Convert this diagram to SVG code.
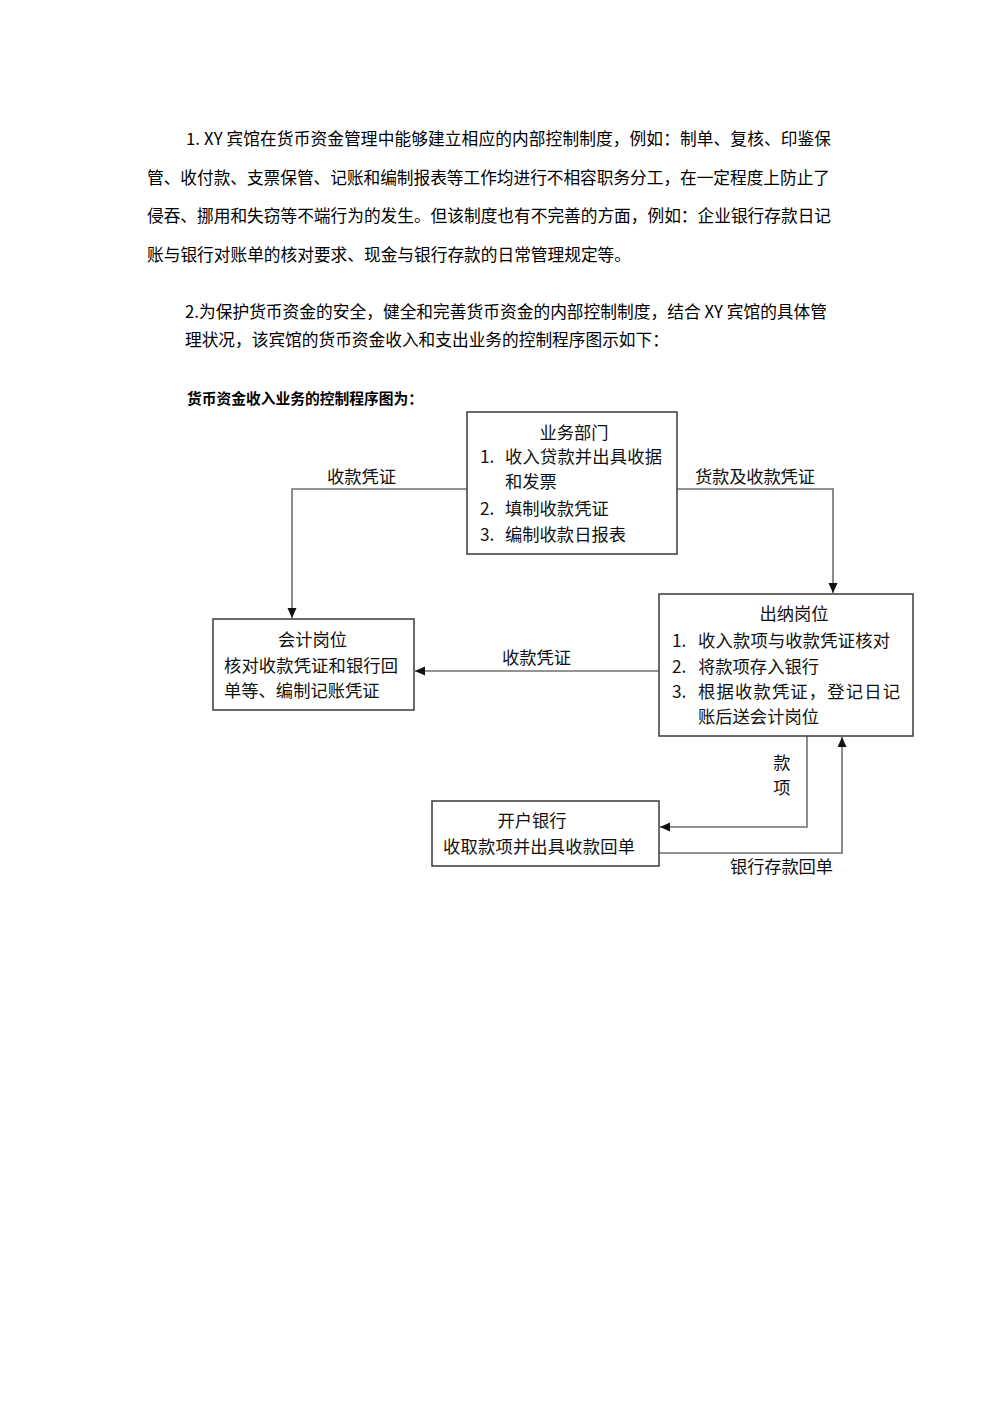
<svg xmlns="http://www.w3.org/2000/svg" width="993" height="1404" viewBox="0 0 993 1404">
<style>
.p{font-family:"Noto Sans CJK SC","Noto Sans",sans-serif;font-size:16.7px;fill:#000}
.h{font-family:"Noto Sans CJK SC","Noto Sans",sans-serif;font-size:14.75px;font-weight:bold;fill:#000}
.t{font-family:"Noto Sans CJK SC","Noto Sans",sans-serif;font-size:17.3px;fill:#111}
.c{text-anchor:middle}
.box{fill:#fff;stroke:#3a3a3a;stroke-width:1.5}
.ln{fill:none;stroke:#707070;stroke-width:1.6}
</style>
<defs>
<marker id="ah" markerUnits="userSpaceOnUse" markerWidth="11" markerHeight="10" refX="10" refY="4.5" orient="auto">
<path d="M0,0 L10,4.5 L0,9 z" fill="#111"/>
</marker>
</defs>
<rect width="993" height="1404" fill="#fff"/>
<g id="text-para">
<text class="p" x="186" y="145" textLength="645" lengthAdjust="spacing">1. XY 宾馆在货币资金管理中能够建立相应的内部控制制度，例如：制单、复核、印鉴保</text>
<text class="p" x="147" y="184" textLength="683" lengthAdjust="spacing">管、收付款、支票保管、记账和编制报表等工作均进行不相容职务分工，在一定程度上防止了</text>
<text class="p" x="147" y="222" textLength="684" lengthAdjust="spacing">侵吞、挪用和失窃等不端行为的发生。但该制度也有不完善的方面，例如：企业银行存款日记</text>
<text class="p" x="147" y="261" textLength="484" lengthAdjust="spacing">账与银行对账单的核对要求、现金与银行存款的日常管理规定等。</text>
<text class="p" x="185" y="318" textLength="642" lengthAdjust="spacing">2.为保护货币资金的安全，健全和完善货币资金的内部控制制度，结合 XY 宾馆的具体管</text>
<text class="p" x="185" y="346">理状况，该宾馆的货币资金收入和支出业务的控制程序图示如下：</text>
<text class="h" x="187" y="403.5" textLength="236" lengthAdjust="spacing">货币资金收入业务的控制程序图为：</text>
</g>
<g id="connectors">
<path class="ln" d="M467,489 H292 V618" marker-end="url(#ah)"/>
<path class="ln" d="M677,489 H833 V593" marker-end="url(#ah)"/>
<path class="ln" d="M659,671 H415" marker-end="url(#ah)"/>
<path class="ln" d="M807,736 V827 H660" marker-end="url(#ah)"/>
<path class="ln" d="M659,853 H842 V737" marker-end="url(#ah)"/>
<text class="t" x="327" y="483.4">收款凭证</text>
<text class="t" x="695" y="483.4" textLength="120" lengthAdjust="spacing">货款及收款凭证</text>
<text class="t" x="502" y="664.4">收款凭证</text>
<text class="t c" x="782" y="769.4">款</text>
<text class="t c" x="782" y="794">项</text>
<text class="t" x="730" y="873.4" textLength="103" lengthAdjust="spacing">银行存款回单</text>
</g>
<g id="node-yewu">
<rect class="box" x="467" y="412" width="210" height="142"/>
<text class="t c" x="574" y="438.7">业务部门</text>
<text class="t" x="480" y="463.4">1.</text>
<text class="t" x="505" y="463.4" textLength="157" lengthAdjust="spacing">收入贷款并出具收据</text>
<text class="t" x="505" y="488.4">和发票</text>
<text class="t" x="480" y="514.7">2.</text>
<text class="t" x="505" y="514.7">填制收款凭证</text>
<text class="t" x="480" y="540.7">3.</text>
<text class="t" x="505" y="540.7">编制收款日报表</text>
</g>
<g id="node-kuaiji">
<rect class="box" x="213" y="619" width="201" height="91"/>
<text class="t c" x="312.5" y="645.7">会计岗位</text>
<text class="t" x="224" y="672.4" textLength="174" lengthAdjust="spacing">核对收款凭证和银行回</text>
<text class="t" x="224" y="696.7">单等、编制记账凭证</text>
</g>
<g id="node-chuna">
<rect class="box" x="659" y="594" width="254" height="142"/>
<text class="t c" x="794" y="619.7">出纳岗位</text>
<text class="t" x="672" y="646.7">1.</text>
<text class="t" x="698" y="646.7" textLength="192" lengthAdjust="spacing">收入款项与收款凭证核对</text>
<text class="t" x="672" y="672.7">2.</text>
<text class="t" x="698" y="672.7">将款项存入银行</text>
<text class="t" x="672" y="698.4">3.</text>
<text class="t" x="698" y="698.4" textLength="202" lengthAdjust="spacing">根据收款凭证，登记日记</text>
<text class="t" x="698" y="723.4">账后送会计岗位</text>
</g>
<g id="node-bank">
<rect class="box" x="432" y="801" width="227" height="65"/>
<text class="t c" x="532" y="827.4">开户银行</text>
<text class="t" x="443" y="853.4" textLength="192" lengthAdjust="spacing">收取款项并出具收款回单</text>
</g>
</svg>
